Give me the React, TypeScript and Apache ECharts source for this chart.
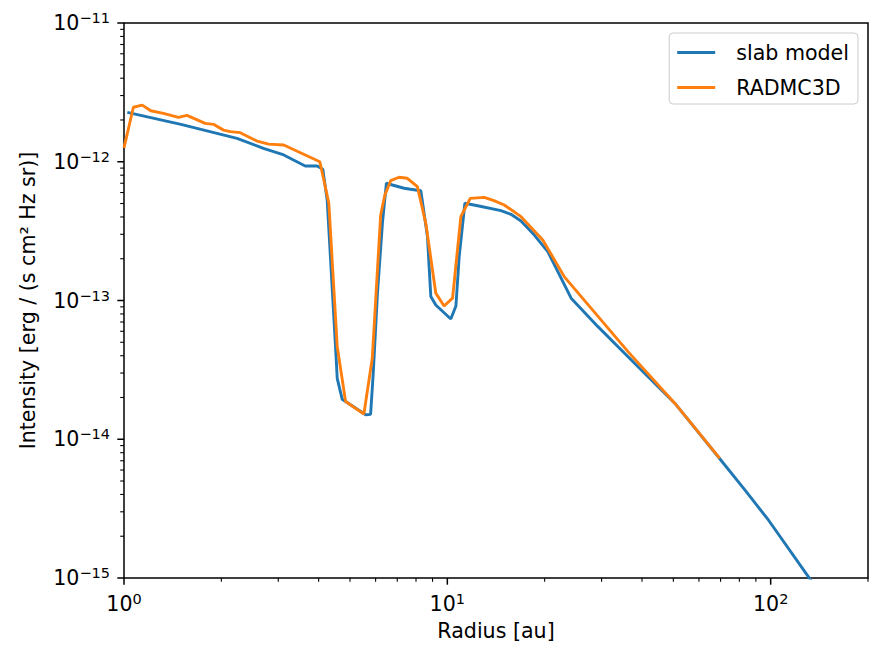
import React, { useEffect, useRef } from "react";
import * as echarts from "echarts";

// Radius [au] and intensity values
const slabRadius = [1.024, 1.5, 2.236, 2.7, 3.12, 3.634, 3.958, 4.12, 4.25, 4.51, 4.565, 4.73, 5.59, 5.79, 5.9, 6.08, 6.3, 6.48, 6.76, 7.35, 7.7, 8.28, 8.68, 8.89, 9.21, 10.25, 10.63, 10.88, 11.33, 12.41, 14.65, 15.73, 16.9, 18.58, 20.45, 24.15, 29.23, 38.89, 50.5, 68.8, 83.2, 98.4, 130.9, 145];
const slabIntensity = [2.27e-12, 1.86e-12, 1.476e-12, 1.25e-12, 1.119e-12, 9.32e-13, 9.32e-13, 8.82e-13, 5.3e-13, 4.65e-14, 2.75e-14, 1.94e-14, 1.5e-14, 1.51e-14, 3.0e-14, 1.13e-13, 3.62e-13, 7.0e-13, 6.8e-13, 6.44e-13, 6.33e-13, 6.18e-13, 2.88e-13, 1.07e-13, 9.29e-14, 7.36e-14, 9.13e-14, 2.07e-13, 5.02e-13, 4.82e-13, 4.44e-13, 4.18e-13, 3.74e-13, 2.96e-13, 2.25e-13, 1.04e-13, 6.48e-14, 3.33e-14, 1.82e-14, 7.48e-15, 4.31e-15, 2.62e-15, 1.02e-15, 7.2e-16];

const radmcRadius = [1.0, 1.069, 1.139, 1.21, 1.324, 1.474, 1.565, 1.783, 1.892, 2.032, 2.131, 2.289, 2.579, 2.802, 3.12, 4.033, 4.15, 4.3, 4.565, 4.845, 5.52, 5.86, 6.22, 6.41, 6.68, 7.09, 7.52, 8.08, 8.58, 9.21, 9.77, 10.38, 11.01, 11.77, 13.0, 13.94, 15.0, 16.9, 19.73, 23.02, 36.2, 50.5, 69.6];
const radmcIntensity = [1.26e-12, 2.47e-12, 2.56e-12, 2.33e-12, 2.23e-12, 2.09e-12, 2.16e-12, 1.89e-12, 1.86e-12, 1.69e-12, 1.65e-12, 1.62e-12, 1.41e-12, 1.34e-12, 1.32e-12, 1.0e-12, 7.39e-13, 5.02e-13, 4.65e-14, 1.87e-14, 1.52e-14, 3.83e-14, 4.13e-13, 5.76e-13, 7.3e-13, 7.73e-13, 7.6e-13, 6.61e-13, 3.6e-13, 1.13e-13, 9.13e-14, 1.04e-13, 4.02e-13, 5.45e-13, 5.54e-13, 5.24e-13, 4.88e-13, 4.02e-13, 2.73e-13, 1.48e-13, 4.28e-14, 1.82e-14, 7.29e-15];

const seriesNames = ["slab model", "RADMC3D"];
const xMajorTicks = [1, 10, 100];
const xMinorTicks = [2, 3, 4, 5, 6, 7, 8, 9, 20, 30, 40, 50, 60, 70, 80, 90, 200];
const yMajorTicks = [1e-15, 1e-14, 1e-13, 1e-12, 1e-11];
const yMinorTicks = [
  2e-15, 3e-15, 4e-15, 5e-15, 6e-15, 7e-15, 8e-15, 9e-15,
  2e-14, 3e-14, 4e-14, 5e-14, 6e-14, 7e-14, 8e-14, 9e-14,
  2e-13, 3e-13, 4e-13, 5e-13, 6e-13, 7e-13, 8e-13, 9e-13,
  2e-12, 3e-12, 4e-12, 5e-12, 6e-12, 7e-12, 8e-12, 9e-12,
];

const X_MIN = 1;
const X_MAX = 200;
const Y_MIN = 1e-15;
const Y_MAX = 1e-11;
const FONT = "DejaVu Sans";
const FS = 20.6;

function powLabel(v: number): string {
  const l = Math.log10(v);
  const e = Math.round(l);
  if (Math.abs(l - e) > 1e-6) return "";
  const s = e < 0 ? "\u2212" + String(-e) : String(e);
  return "{b|10}{s|" + s + "}";
}

const richLabel = {
  b: { fontSize: FS, fontFamily: FONT, color: "#000", lineHeight: 25 },
  s: { fontSize: 14.5, fontFamily: FONT, color: "#000", lineHeight: 15, verticalAlign: "top" },
};

function xTicks(vals: number[], len: number, width: number) {
  return {
    type: "custom",
    silent: true,
    clip: false,
    z: 10,
    data: vals.map((v) => [v, Y_MIN]),
    renderItem: (_p: any, api: any) => {
      const p = api.coord([api.value(0), api.value(1)]);
      return {
        type: "line",
        shape: { x1: p[0], y1: p[1], x2: p[0], y2: p[1] + len },
        style: { stroke: "#000", lineWidth: width },
      };
    },
  };
}

function yTicks(vals: number[], len: number, width: number) {
  return {
    type: "custom",
    silent: true,
    clip: false,
    z: 10,
    data: vals.map((v) => [X_MIN, v]),
    renderItem: (_p: any, api: any) => {
      const p = api.coord([api.value(0), api.value(1)]);
      return {
        type: "line",
        shape: { x1: p[0], y1: p[1], x2: p[0] - len, y2: p[1] },
        style: { stroke: "#000", lineWidth: width },
      };
    },
  };
}

export default function App() {
  const ref = useRef<HTMLDivElement>(null);
  useEffect(() => {
    if (!ref.current) return;
    const chart = echarts.init(ref.current, undefined, { renderer: "svg" });
    const option: any = {
      animation: false,
      backgroundColor: "#fff",
      textStyle: { fontFamily: FONT },
      grid: {
        left: 124,
        right: 15,
        top: 23,
        bottom: 82,
        show: true,
        borderColor: "#000",
        borderWidth: 1.5,
        backgroundColor: "transparent",
      },
      legend: {
        data: seriesNames,
        orient: "vertical",
        right: 25,
        top: 33,
        icon: "rect",
        itemWidth: 38,
        itemHeight: 3,
        itemGap: 12,
        padding: [8, 9, 5, 8],
        backgroundColor: "rgba(255,255,255,0.8)",
        borderColor: "#cccccc",
        borderWidth: 1,
        borderRadius: 4,
        textStyle: { fontSize: FS, fontFamily: FONT, color: "#000", lineHeight: 23, padding: [0, 0, 0, 16] },
      },
      xAxis: {
        type: "log",
        logBase: 10,
        min: X_MIN,
        max: X_MAX,
        name: "Radius [au]",
        nameLocation: "middle",
        nameGap: 42,
        nameTextStyle: { fontSize: FS, fontFamily: FONT, color: "#000" },
        axisLine: { show: false },
        axisTick: { show: false },
        splitLine: { show: false },
        minorTick: { show: false },
        axisLabel: {
          margin: 13,
          formatter: powLabel,
          rich: richLabel,
          showMinLabel: true,
          showMaxLabel: true,
        },
      },
      yAxis: {
        type: "log",
        logBase: 10,
        min: Y_MIN,
        max: Y_MAX,
        name: "Intensity [erg / (s cm\u00b2 Hz sr)]",
        nameLocation: "middle",
        nameGap: 86,
        nameTextStyle: { fontSize: FS, fontFamily: FONT, color: "#000" },
        axisLine: { show: false },
        axisTick: { show: false },
        splitLine: { show: false },
        axisLabel: {
          margin: 14,
          formatter: powLabel,
          rich: richLabel,
        },
      },
      series: [
        {
          name: seriesNames[0],
          type: "line",
          data: slabRadius.map((r, i) => [r, slabIntensity[i]]),
          showSymbol: false,
          symbol: "none",
          clip: true,
          lineStyle: { color: "#1f77b4", width: 2.9 },
          itemStyle: { color: "#1f77b4" },
          z: 3,
        },
        {
          name: seriesNames[1],
          type: "line",
          data: radmcRadius.map((r, i) => [r, radmcIntensity[i]]),
          showSymbol: false,
          symbol: "none",
          clip: true,
          lineStyle: { color: "#ff7f0e", width: 2.9 },
          itemStyle: { color: "#ff7f0e" },
          z: 4,
        },
        xTicks(xMajorTicks, 6.7, 1.5),
        xTicks(xMinorTicks, 3.8, 1.1),
        yTicks(yMajorTicks, 6.7, 1.5),
        yTicks(yMinorTicks, 3.8, 1.1),
      ],
    };
    chart.setOption(option);
    return () => chart.dispose();
  }, []);
  return (
    <div
      ref={ref}
      style={{ position: "fixed", left: 0, top: 0, width: 883, height: 660 }}
    />
  );
}
